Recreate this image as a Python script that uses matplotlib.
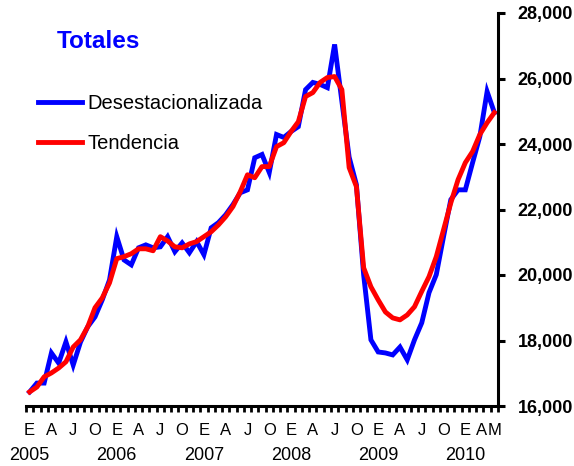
import numpy as np
import matplotlib
matplotlib.use("Agg")
from matplotlib import pyplot as plt
from matplotlib.ticker import FixedLocator, FuncFormatter

plt.rcParams["font.family"] = ["Liberation Sans", "DejaVu Sans"]

# monthly series, enero 2005 - mayo 2010
desestacionalizada = [
    16430, 16700, 16700, 17620, 17310, 17960, 17250, 17950, 18420, 18720, 19240, 19850,
    21170, 20460, 20310, 20830, 20920, 20830, 20860, 21170, 20710, 20980, 20680, 21020,
    20620, 21440, 21600, 21840, 22150, 22510, 22600, 23580, 23680, 23130, 24290, 24200,
    24380, 24530, 25660, 25880, 25820, 25720, 27040, 25300, 23600, 22760, 20000, 18020,
    17650, 17620, 17560, 17800, 17410, 18020, 18540, 19460, 20010, 21170, 22300, 22600,
    22600, 23430, 24230, 25600, 24960,
]
tendencia = [
    16430, 16580, 16890, 17010, 17160, 17350, 17800, 18020, 18420, 19000, 19300, 19760,
    20500, 20560, 20650, 20800, 20800, 20740, 21170, 21040, 20860, 20830, 20950, 21020,
    21170, 21320, 21530, 21780, 22090, 22540, 23060, 22970, 23310, 23310, 23920, 24040,
    24380, 24680, 25450, 25570, 25880, 26030, 26060, 25660, 23280, 22700, 20220, 19640,
    19240, 18870, 18690, 18630, 18780, 19030, 19500, 19950, 20560, 21380, 22200, 22910,
    23430, 23770, 24290, 24650, 24960,
]
mes_pos = [0, 3, 6, 9, 12, 15, 18, 21, 24, 27, 30, 33, 36, 39, 42, 45,
           48, 51, 54, 57, 60, 63, 64]
mes_lbl = ["E", "A", "J", "O"] * 5 + ["E", "A", "M"]
anios = ["2005", "2006", "2007", "2008", "2009", "2010"]
anio_pos = [0, 12, 24, 36, 48, 60]

x = np.arange(len(desestacionalizada))

fig = plt.figure(figsize=(5.74, 4.66), dpi=100)
ax = fig.add_axes([26 / 574, 1 - 406 / 466, (498 - 26) / 574, (406 - 13) / 466])

lw = 3.5
ax.plot(x, desestacionalizada, color="#0000ff", lw=lw, label="Desestacionalizada",
        solid_joinstyle="miter")
ax.plot(x, tendencia, color="#ff0000", lw=lw, label="Tendencia",
        solid_joinstyle="round")

ax.set_xlim(-0.5, len(x) - 0.5)
ax.set_ylim(16000, 28000)

# ejes: solo abajo y derecha
for s in ["left", "top"]:
    ax.spines[s].set_visible(False)
for s in ["bottom", "right"]:
    ax.spines[s].set_linewidth(2.2)

ax.yaxis.tick_right()
ax.set_yticks(np.arange(16000, 28001, 2000))
ax.yaxis.set_major_formatter(FuncFormatter(lambda v, p: f"{int(v):,}"))
ax.tick_params(axis="y", which="major", direction="out", length=5, width=2.2,
               labelsize=13, pad=9)
for t in ax.get_yticklabels():
    t.set_fontweight("bold")

ax.xaxis.set_major_locator(FixedLocator(mes_pos))
ax.set_xticklabels(mes_lbl)
ax.xaxis.set_minor_locator(FixedLocator(np.arange(-0.5, len(x), 1.0)))
ax.tick_params(axis="x", which="major", length=0, labelsize=12, pad=12)
ax.tick_params(axis="x", which="minor", direction="out", length=4, width=2)
# "AM" al final: A pegada a la M
xt = ax.get_xticklabels()
xt[-2].set_horizontalalignment("right")

for p, a in zip(anio_pos, anios):
    ax.text(p, -0.125, a, transform=ax.get_xaxis_transform(), ha="center",
            va="center", fontsize=13)

fig.text(57 / 574, 1 - 42 / 466, "Totales", color="#0000ff", fontsize=17.5,
         fontweight="bold", va="center", ha="left")

ax.legend(loc="upper left", bbox_to_anchor=(38 / 574, 1 - 94 / 466),
          bbox_transform=fig.transFigure, frameon=False, fontsize=14.5,
          handlelength=2.2, handletextpad=0.25, labelspacing=1.05,
          borderpad=0, borderaxespad=0)

fig.savefig("out.png", dpi=100)
